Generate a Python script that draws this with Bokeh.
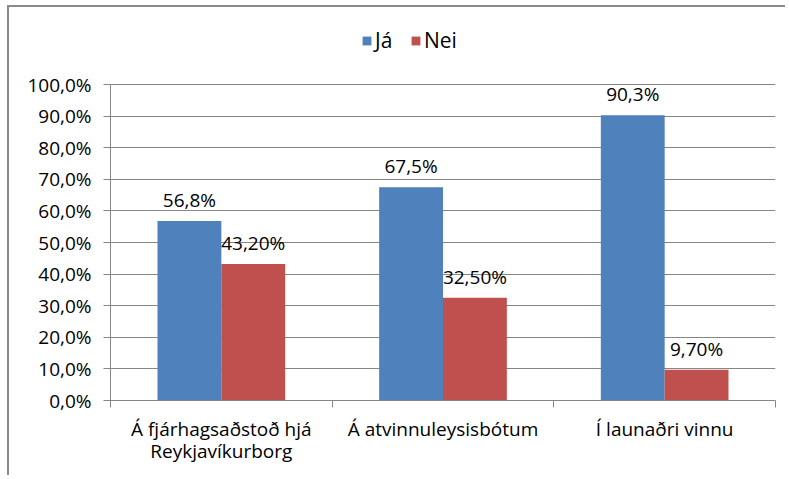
from bokeh.plotting import figure
from bokeh.models import ColumnDataSource, Range1d, FixedTicker, Legend, LegendItem
from bokeh.transform import dodge
from bokeh.core.properties import value
from bokeh.embed import file_html
from bokeh.resources import INLINE

# ---- data ----
categories = ["Á fjárhagsaðstoð hjá\nReykjavíkurborg", "Á atvinnuleysisbótum", "Í launaðri vinnu"]
series_names = ["Já", "Nei"]
ja_values = [56.8, 67.5, 90.3]
nei_values = [43.2, 32.5, 9.7]
ja_labels = ["56,8%", "67,5%", "90,3%"]
nei_labels = ["43,20%", "32,50%", "9,70%"]
y_ticks = [0, 10, 20, 30, 40, 50, 60, 70, 80, 90, 100]
y_tick_labels = ["0,0%", "10,0%", "20,0%", "30,0%", "40,0%", "50,0%",
                 "60,0%", "70,0%", "80,0%", "90,0%", "100,0%"]

# ---- style / layout ----
FONT = "Open Sans"
FSIZE = "19px"
TXT = "#000000"
GRID = "#868686"
BLUE = "#4F81BD"
RED = "#C0504D"
BAR_W = 0.288

W, H = 778, 470
FRAME_H = 393          # frame spans from the canvas top down to the 0 % line
TOP_PX = 77            # free space (legend) above the 100 % line inside the frame
y_end = y_ticks[-1] * FRAME_H / (FRAME_H - TOP_PX)

n = len(categories)
centers = [i + 0.5 for i in range(n)]
bounds = list(range(n + 1))

source = ColumnDataSource(dict(pos=centers, ja=ja_values, nei=nei_values,
                               ja_lbl=ja_labels, nei_lbl=nei_labels))

p = figure(x_range=Range1d(0, n), y_range=Range1d(0, y_end),
           width=W, height=H,
           output_backend="svg", toolbar_location=None,
           min_border_left=101, min_border_right=12,
           min_border_top=0, min_border_bottom=H - FRAME_H)
p.styles = {"border-left": "2px solid #8a8a8a", "border-top": "2px solid #8a8a8a",
            "margin-left": "7px", "margin-top": "5px"}
p.outline_line_color = None
p.background_fill_color = "white"
p.border_fill_color = "white"
p.xgrid.visible = False
p.ygrid.grid_line_color = GRID
p.ygrid.grid_line_width = 1

# y axis
ya = p.yaxis[0]
ya.ticker = FixedTicker(ticks=y_ticks)
ya.bounds = (y_ticks[0], y_ticks[-1])
ya.major_label_overrides = dict(zip(y_ticks, y_tick_labels))
ya.axis_line_color = GRID
ya.major_tick_line_color = GRID
ya.major_tick_out = 7
ya.major_tick_in = 0
ya.minor_tick_line_color = None
ya.major_label_standoff = 12
ya.major_label_text_font = FONT
ya.major_label_text_font_size = FSIZE
ya.major_label_text_color = TXT

# x axis: labels at slot centres, tick marks at slot boundaries (minor ticks)
xa = p.xaxis[0]
xa.ticker = FixedTicker(ticks=centers, minor_ticks=bounds)
xa.major_label_overrides = dict(zip(centers, categories))
xa.axis_line_color = GRID
xa.major_tick_line_color = None
xa.major_tick_out = 0
xa.major_tick_in = 0
xa.minor_tick_line_color = GRID
xa.minor_tick_out = 7
xa.minor_tick_in = 0
xa.major_label_standoff = 8
xa.major_label_text_font = FONT
xa.major_label_text_font_size = FSIZE
xa.major_label_text_line_height = 0.85
xa.major_label_text_color = TXT

# bars
r_ja = p.vbar(x=dodge("pos", -BAR_W / 2), top="ja", width=BAR_W,
              source=source, fill_color=BLUE, line_color=None)
r_nei = p.vbar(x=dodge("pos", BAR_W / 2), top="nei", width=BAR_W,
               source=source, fill_color=RED, line_color=None)

# data labels
for off, col, lbl in [(-BAR_W / 2, "ja", "ja_lbl"), (BAR_W / 2, "nei", "nei_lbl")]:
    p.text(x=dodge("pos", off), y=col, text=lbl, source=source,
           text_align="center", text_baseline="alphabetic", y_offset=-21,
           text_font=value(FONT), text_font_size=FSIZE, text_color=TXT)

legend = Legend(items=[LegendItem(label=series_names[0], renderers=[r_ja]),
                       LegendItem(label=series_names[1], renderers=[r_nei])],
                orientation="horizontal", location=(251, 346),
                border_line_color=None, background_fill_alpha=0,
                padding=0, margin=0, spacing=15, label_standoff=3,
                glyph_width=11, glyph_height=11,
                label_text_font=FONT, label_text_font_size="21px", label_text_color=TXT)
p.add_layout(legend, "center")

open("out.html", "w").write(file_html(p, INLINE))
